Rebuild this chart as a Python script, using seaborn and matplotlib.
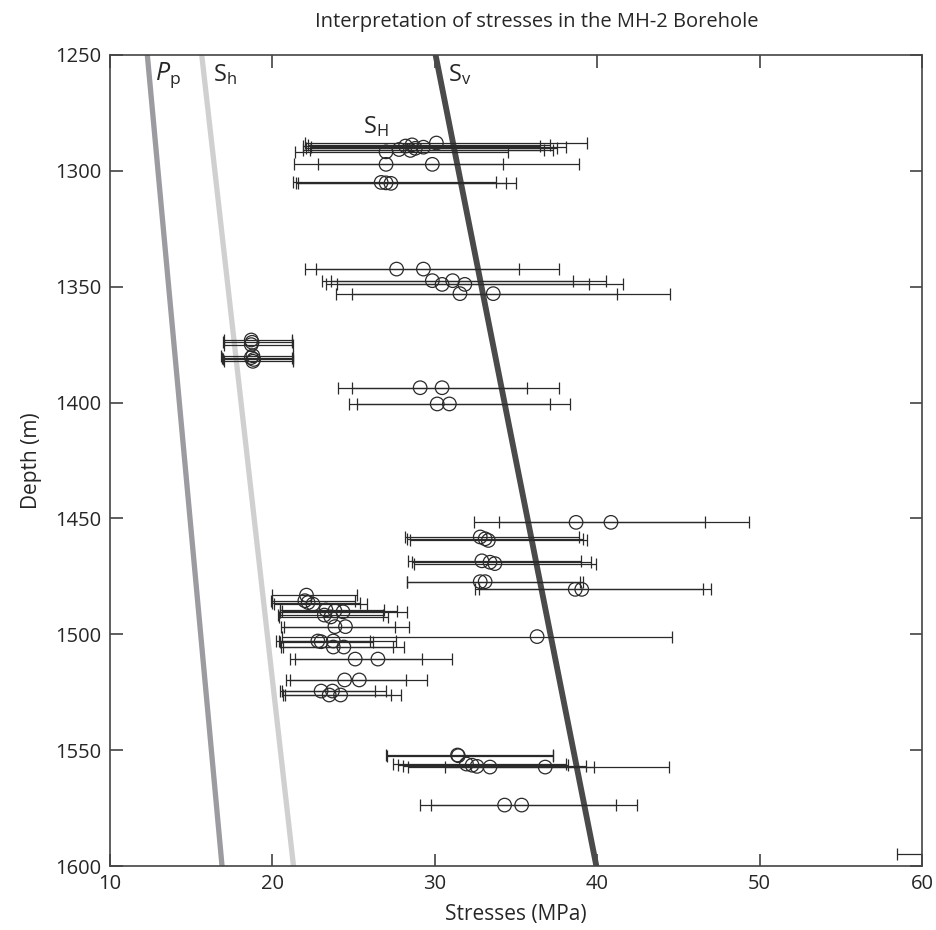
import numpy as np
import pandas as pd
import matplotlib
matplotlib.use("Agg")
import matplotlib.pyplot as plt
import seaborn as sns

# SH estimates: depth (m), best value, lower and upper bound (MPa)
depth = [1288.0, 1288.8, 1289.3, 1289.8, 1290.3, 1290.8, 1291.2, 1291.8,
         1297.2, 1297.2, 1305.0, 1305.2, 1305.4,
         1342.4, 1342.4, 1347.4, 1347.4, 1349.0, 1349.0, 1353.0, 1353.0,
         1373.0, 1374.0, 1375.0, 1379.8, 1380.6, 1381.4, 1382.2,
         1393.6, 1393.6, 1400.6, 1400.6,
         1451.7, 1451.7, 1458.0, 1458.8, 1459.5, 1468.3, 1468.9, 1469.5,
         1477.3, 1477.3, 1480.6, 1480.6,
         1483.1, 1485.5, 1486.3, 1487.0, 1489.5, 1489.9, 1490.3, 1491.7,
         1492.5, 1496.7, 1496.7, 1501.0, 1502.9, 1503.2, 1502.9, 1505.5,
         1505.5, 1510.7, 1510.7, 1519.7, 1519.7, 1524.5, 1524.5, 1526.2,
         1526.2,
         1552.1, 1552.4, 1556.0, 1556.5, 1557.0, 1557.3, 1557.3,
         1573.7, 1573.7, 1594.8]
sh_best = [30.1, 28.6, 28.2, 29.3, 28.8, 27.8, 28.5, 27.0,
           27.0, 29.85, 26.7, 27.0, 27.3,
           27.65, 29.3, 29.85, 31.1, 30.45, 31.85, 31.55, 33.6,
           18.7, 18.75, 18.7, 18.8, 18.7, 18.85, 18.8,
           29.1, 30.45, 30.15, 30.9,
           38.7, 40.85, 32.8, 33.1, 33.3, 32.9, 33.4, 33.7,
           32.8, 33.1, 38.65, 39.05,
           22.1, 22.0, 22.2, 22.5, 23.3, 23.85, 24.35, 23.2,
           23.6, 23.85, 24.5, 36.3, 22.8, 23.0, 23.75, 23.75,
           24.4, 25.1, 26.5, 24.45, 25.35, 23.0, 23.7, 23.5,
           24.2,
           31.4, 31.45, 31.95, 32.3, 32.6, 33.4, 36.8,
           34.3, 35.35, 66.0]
sh_low = [22.0, 22.2, 21.9, 22.4, 22.1, 21.9, 22.3, 21.4,
          21.35, 22.8, 21.3, 21.45, 21.6,
          22.0, 22.7, 23.05, 23.6, 23.3, 23.95, 23.9, 24.9,
          17.0, 16.95, 17.0, 16.85, 16.9, 16.95, 17.0,
          24.05, 24.9, 24.7, 25.2,
          32.4, 33.95, 28.15, 28.3, 28.5, 28.35, 28.6, 28.7,
          28.27, 28.3, 32.5, 32.7,
          19.95, 19.9, 20.0, 20.1, 20.45, 20.6, 20.5, 20.35,
          20.4, 20.55, 20.7, 20.6, 20.25, 20.45, 20.4, 20.55,
          20.65, 21.1, 21.4, 20.85, 21.1, 20.5, 20.6, 20.65,
          20.75,
          27.0, 27.05, 27.45, 27.75, 28.05, 28.35, 30.65,
          29.1, 29.75, 58.45]
sh_high = [39.4, 37.1, 36.5, 38.1, 37.5, 36.7, 37.3, 34.5,
           34.2, 38.9, 33.8, 34.4, 35.0,
           35.2, 37.65, 38.5, 40.55, 39.5, 41.6, 41.2, 44.5,
           21.2, 21.2, 21.25, 21.3, 21.2, 21.3, 21.3,
           35.7, 37.65, 37.1, 38.3,
           46.65, 49.35, 38.9, 39.15, 39.4, 39.0, 39.6, 39.95,
           38.95, 39.1, 46.5, 47.0,
           25.2, 25.1, 25.4, 25.8, 26.9, 27.65, 28.3, 26.8,
           27.1, 27.55, 28.4, 44.6, 26.0, 26.2, 27.6, 27.4,
           28.1, 29.2, 31.05, 28.25, 29.55, 26.3, 27.0, 27.3,
           27.9,
           37.3, 37.3, 38.1, 38.2, 39.3, 39.8, 44.4,
           41.15, 42.45, 75.0]

# stress gradients: value at 1250 m and at 1600 m
line_depth = [1250, 1600]
pp = [12.3, 16.9]
shmin = [15.65, 21.3]
sv = [30.05, 39.95]

df = pd.DataFrame({"depth": depth, "sh": sh_best, "lo": sh_low, "hi": sh_high})

sns.set_style("ticks")
plt.rcParams["font.family"] = ["Open Sans", "DejaVu Sans"]
plt.rcParams["mathtext.fontset"] = "custom"
plt.rcParams["mathtext.rm"] = "Open Sans"
plt.rcParams["mathtext.it"] = "Open Sans:italic"

fig = plt.figure(figsize=(9.36, 9.30), dpi=100)
ax = fig.add_axes([0.1175, 0.0688, 0.8675, 0.8721])

sns.lineplot(x=pp, y=line_depth, color="#9b9ba0", linewidth=3.8, ax=ax)
sns.lineplot(x=shmin, y=line_depth, color="#d0d0d0", linewidth=3.8, ax=ax)
sns.lineplot(x=sv, y=line_depth, color="#4a4a4a", linewidth=4.2, ax=ax)

ax.errorbar(df["sh"], df["depth"],
            xerr=[df["sh"] - df["lo"], df["hi"] - df["sh"]],
            fmt="none", ecolor="#2a2a2a", elinewidth=0.9, capsize=4.5, capthick=0.9)
sns.scatterplot(data=df, x="sh", y="depth", marker="o", s=95,
                facecolor="none", edgecolor="#2a2a2a", linewidth=0.9, ax=ax)

ax.text(12.75, 1258.5, r"$\mathit{P}_{\mathrm{p}}$", fontsize=18, va="center")
ax.text(16.35, 1258.5, r"$\mathrm{S}_{\mathrm{h}}$", fontsize=17, va="center")
ax.text(30.8, 1258.5, r"$\mathrm{S}_{\mathrm{v}}$", fontsize=17, va="center")
ax.text(25.6, 1281.0, r"$\mathrm{S}_{\mathrm{H}}$", fontsize=17, va="center")

ax.set_xlim(10, 60)
ax.set_ylim(1600, 1250)
ax.set_xticks(range(10, 61, 10))
ax.set_yticks(range(1250, 1601, 50))
ax.tick_params(direction="in", length=9, width=1.1, top=True, right=True,
               labelsize=14.5, color="#333333", pad=6)
for sp in ax.spines.values():
    sp.set_color("#444444")
    sp.set_linewidth(1.2)

ax.set_xlabel("Stresses (MPa)", fontsize=15, labelpad=7)
ax.set_ylabel("Depth (m)", fontsize=15, labelpad=10)
ax.set_title("Interpretation of stresses in the MH-2 Borehole", fontsize=14.5,
             x=0.525, pad=20)

fig.savefig("out.png", dpi=100)
